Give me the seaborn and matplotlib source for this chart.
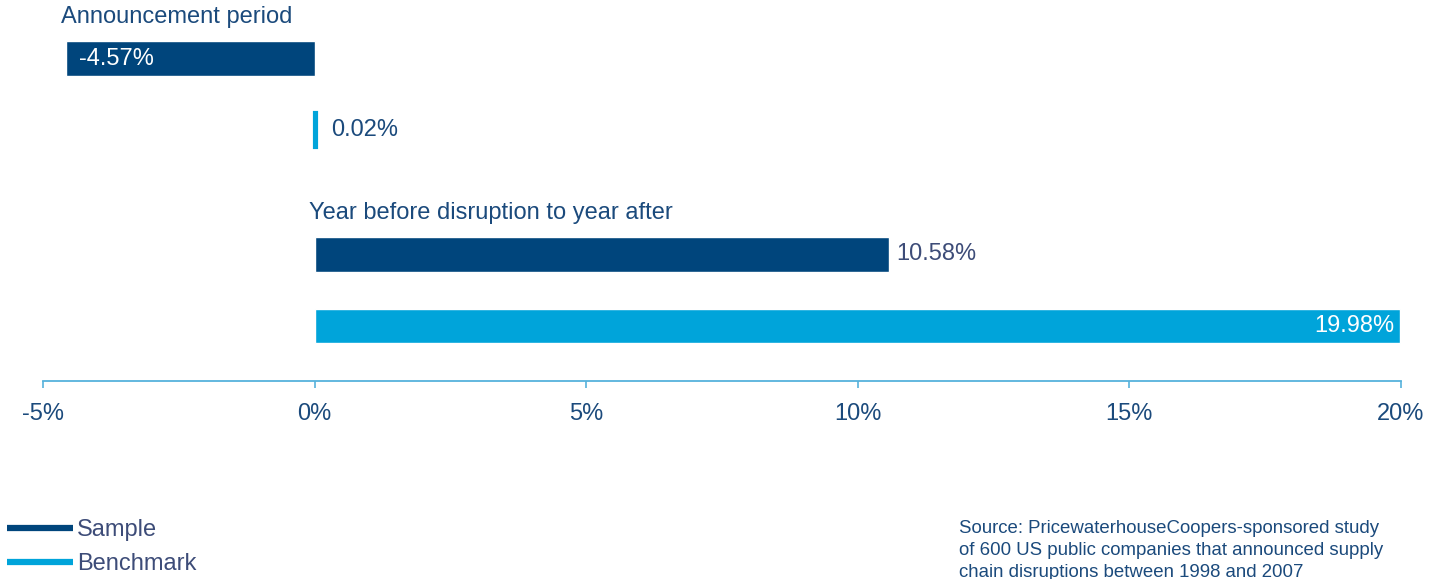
import matplotlib
matplotlib.use("Agg")
import matplotlib.pyplot as plt
from matplotlib.lines import Line2D
import seaborn as sns
import pandas as pd

# ---- data ----
periods = ["Announcement period", "Year before disruption to year after"]
series = ["Sample", "Benchmark"]
sample_values = [-4.57, 10.58]
benchmark_values = [0.02, 19.98]
x_ticks = [-5, 0, 5, 10, 15, 20]
x_tick_labels = ["-5%", "0%", "5%", "10%", "15%", "20%"]
source_text = ("Source: PricewaterhouseCoopers-sponsored study\n"
               "of 600 US public companies that announced supply\n"
               "chain disruptions between 1998 and 2007")

# ---- style ----
DARK = "#00457C"
LIGHT = "#00A4DA"
TEXT = "#1B4A7C"
LEGEND_TEXT = "#3D4C78"
AXIS = "#56B2DC"
FONT = ["Liberation Sans", "DejaVu Sans"]

sns.set_theme(style="white")
plt.rcParams["font.family"] = FONT

df = pd.DataFrame({
    "period": periods * 2,
    "series": [series[0]] * len(periods) + [series[1]] * len(periods),
    "value": sample_values + benchmark_values,
})

W, H = 1440, 579
fig = plt.figure(figsize=(W / 100, H / 100), dpi=100)
ax = fig.add_axes([43 / W, 1 - 381 / H, 1358 / W, 381 / H])

sns.barplot(data=df, y="period", x="value", hue="series", order=periods,
            hue_order=series, palette=[DARK, LIGHT], orient="h",
            width=0.73, gap=0.52, legend=False, ax=ax, saturation=1)

ax.set_xlim(-5, 20)
ax.set_ylim(1.464, -0.482)
ax.set_xlabel("")
ax.set_ylabel("")
ax.set_yticks([])
ax.set_xticks(x_ticks)
ax.set_xticklabels(x_tick_labels, fontsize=17, color=TEXT)
ax.tick_params(axis="x", direction="out", length=5, width=1.2, color=AXIS, pad=11,
               bottom=True)
for s in ["left", "top", "right"]:
    ax.spines[s].set_visible(False)
ax.spines["bottom"].set_color(AXIS)
ax.spines["bottom"].set_linewidth(1.3)

# value labels
xmin, xmax = ax.get_xlim()
for cont, vals in zip(ax.containers, [sample_values, benchmark_values]):
    for patch, v in zip(cont.patches, vals):
        yc = patch.get_y() + patch.get_height() / 2
        label = f"{v:.2f}%"
        offset = 5
        if abs(v) < 0.3:
            patch.set_edgecolor(patch.get_facecolor())
            patch.set_linewidth(3)
            offset = 11
        if v < 0 and v - xmin < 1:
            ax.annotate(label, (v, yc), xytext=(9, 0), textcoords="offset points",
                        ha="left", va="center", color="white", fontsize=17)
        elif v > 0 and xmax - v < 1:
            ax.annotate(label, (v, yc), xytext=(-4, 0), textcoords="offset points",
                        ha="right", va="center", color="white", fontsize=17)
        else:
            ax.annotate(label, (max(v, 0), yc), xytext=(offset, 0),
                        textcoords="offset points", ha="left", va="center",
                        color=TEXT if v < 1 else LEGEND_TEXT, fontsize=17)

# group labels
for i, period in enumerate(periods):
    top_patch = ax.containers[0].patches[i]
    left = min(sample_values[i], benchmark_values[i], 0)
    ax.annotate(period, (left, top_patch.get_y()), xytext=(-4, 17.5),
                textcoords="offset points", ha="left", va="center",
                color=TEXT, fontsize=17)

# legend
handles = [Line2D([], [], color=DARK, lw=4.5, solid_capstyle="butt"),
           Line2D([], [], color=LIGHT, lw=4.5, solid_capstyle="butt")]
leg = fig.legend(handles, series, loc="upper left",
                 bbox_to_anchor=(7 / W, 1 - 519 / H), frameon=False,
                 borderpad=0, borderaxespad=0, handlelength=2.8,
                 handletextpad=0.15, labelspacing=0.52, fontsize=17)
for t in leg.get_texts():
    t.set_color(LEGEND_TEXT)

fig.text(959 / W, 1 - 520 / H, source_text, ha="left", va="top",
         fontsize=13.4, color=TEXT, linespacing=1.38)

fig.savefig("out.png", dpi=100)
